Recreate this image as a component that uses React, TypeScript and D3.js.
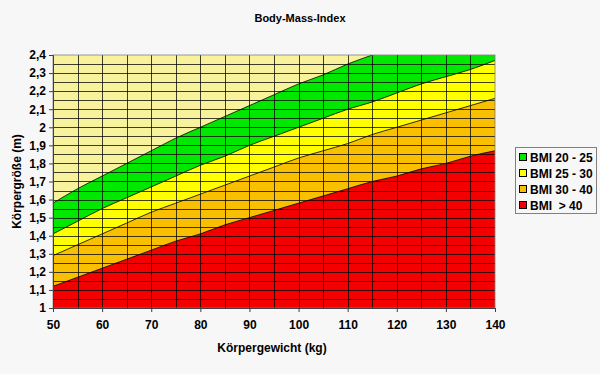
import * as d3 from 'd3';
import React, { useEffect, useRef } from 'react';

// Körpergewicht (kg)
const weights = [50, 55, 60, 65, 70, 75, 80, 85, 90, 95, 100, 105, 110, 115, 120, 125, 130, 135, 140];
// Körpergröße (m) at the band limits
const bmi20 = [1.58, 1.66, 1.73, 1.80, 1.87, 1.94, 2.00, 2.06, 2.12, 2.18, 2.24, 2.29, 2.35, 2.40, 2.45, 2.50, 2.55, 2.60, 2.65];
const bmi25 = [1.41, 1.48, 1.55, 1.61, 1.67, 1.73, 1.79, 1.84, 1.90, 1.95, 2.00, 2.05, 2.10, 2.14, 2.19, 2.24, 2.28, 2.32, 2.37];
const bmi30 = [1.29, 1.35, 1.41, 1.47, 1.53, 1.58, 1.63, 1.68, 1.73, 1.78, 1.83, 1.87, 1.91, 1.96, 2.00, 2.04, 2.08, 2.12, 2.16];
const bmi40 = [1.12, 1.17, 1.22, 1.27, 1.32, 1.37, 1.41, 1.46, 1.50, 1.54, 1.58, 1.62, 1.66, 1.70, 1.73, 1.77, 1.80, 1.84, 1.87];

const seriesNames = ['BMI 20 - 25', 'BMI 25 - 30', 'BMI 30 - 40', 'BMI  > 40'];
const seriesColors = ['#00E800', '#FFFF00', '#F8C000', '#F40000'];
const xTicks = [50, 60, 70, 80, 90, 100, 110, 120, 130, 140];
const yTicks = [1, 1.1, 1.2, 1.3, 1.4, 1.5, 1.6, 1.7, 1.8, 1.9, 2, 2.1, 2.2, 2.3, 2.4];

const App = (): React.JSX.Element => {
	const ref = useRef<SVGSVGElement | null>(null);

	useEffect(() => {
		if (ref.current === null) return;
		document.body.style.margin = '0';
		const root = d3.select(ref.current);
		root.selectAll('*').remove();

		const width = 600;
		const height = 374;
		const margin = { top: 55, right: 105, bottom: 66, left: 53 };
		const font = 'Arial, "Liberation Sans", sans-serif';

		root.attr('width', width).attr('height', height).style('display', 'block');
		root.append('rect').attr('width', width).attr('height', height).attr('fill', '#F7F7F7');

		const x = d3.scaleLinear().domain([50, 140]).range([margin.left, width - margin.right]);
		const y = d3.scaleLinear().domain([1, 2.4]).range([height - margin.bottom, margin.top]);

		root.append('clipPath').attr('id', 'plot-clip')
			.append('rect')
			.attr('x', x(50)).attr('y', y(2.4))
			.attr('width', x(140) - x(50)).attr('height', y(1) - y(2.4));

		const plot = root.append('g').attr('clip-path', 'url(#plot-clip)');

		plot.append('rect')
			.attr('x', x(50)).attr('y', y(2.4))
			.attr('width', x(140) - x(50)).attr('height', y(1) - y(2.4))
			.attr('fill', '#F8F29C');

		const bands = [bmi20, bmi25, bmi30, bmi40];
		const area = d3.area<number>()
			.curve(d3.curveMonotoneX)
			.x((_, i) => x(weights[i]))
			.y0(y(1))
			.y1((d) => y(d));
		const line = d3.line<number>()
			.curve(d3.curveMonotoneX)
			.x((_, i) => x(weights[i]))
			.y((d) => y(d));

		bands.forEach((band, i) => {
			plot.append('path').datum(band).attr('d', area).attr('fill', seriesColors[i]);
		});

		// grid
		const grid = plot.append('g').attr('stroke', '#000').attr('stroke-opacity', 0.75).attr('stroke-width', 1);
		d3.range(55, 140, 5).forEach((w) => {
			grid.append('line')
				.attr('x1', Math.round(x(w)) + 0.5).attr('x2', Math.round(x(w)) + 0.5)
				.attr('y1', y(2.4)).attr('y2', y(1));
		});
		d3.range(1.05, 2.4, 0.05).forEach((h) => {
			grid.append('line')
				.attr('x1', x(50)).attr('x2', x(140))
				.attr('y1', Math.round(y(h)) + 0.5).attr('y2', Math.round(y(h)) + 0.5);
		});

		bands.forEach((band) => {
			plot.append('path').datum(band).attr('d', line)
				.attr('fill', 'none').attr('stroke', '#000').attr('stroke-width', 0.8);
		});

		// plot border
		root.append('rect')
			.attr('x', x(50)).attr('y', y(2.4))
			.attr('width', x(140) - x(50)).attr('height', y(1) - y(2.4))
			.attr('fill', 'none').attr('stroke', '#808080').attr('stroke-width', 0.8);

		const fmt = (d: number) => String(Math.round(d * 10) / 10).replace('.', ',');

		const yAxis = root.append('g')
			.attr('transform', `translate(${x(50)},0)`)
			.call(d3.axisLeft(y).tickValues(yTicks).tickSize(4).tickFormat((d) => fmt(d as number)));
		yAxis.selectAll('text').attr('font-family', font).attr('font-size', 12).attr('font-weight', 'bold').attr('fill', '#000');
		yAxis.selectAll('line, path').attr('stroke', '#404040');

		const xAxis = root.append('g')
			.attr('transform', `translate(0,${y(1)})`)
			.call(d3.axisBottom(x).tickValues(xTicks).tickSize(4).tickFormat((d) => String(d)));
		xAxis.selectAll('text').attr('font-family', font).attr('font-size', 12).attr('font-weight', 'bold').attr('fill', '#000').attr('dy', '1.15em');
		xAxis.selectAll('line, path').attr('stroke', '#404040');

		root.append('text')
			.attr('x', 300).attr('y', 22)
			.attr('text-anchor', 'middle')
			.attr('font-family', font).attr('font-size', 11).attr('font-weight', 'bold')
			.text('Body-Mass-Index');

		root.append('text')
			.attr('x', 272).attr('y', 352)
			.attr('text-anchor', 'middle')
			.attr('font-family', font).attr('font-size', 12).attr('font-weight', 'bold')
			.text('Körpergewicht (kg)');

		root.append('text')
			.attr('transform', `translate(21,${(y(1) + y(2.4)) / 2}) rotate(-90)`)
			.attr('text-anchor', 'middle')
			.attr('font-family', font).attr('font-size', 12).attr('font-weight', 'bold')
			.text('Körpergröße (m)');

		// legend
		const legend = root.append('g').attr('transform', 'translate(515,147)');
		legend.append('rect')
			.attr('x', 0.5).attr('y', 0.5).attr('width', 81).attr('height', 66)
			.attr('fill', '#F7F7F7').attr('stroke', '#808080');
		seriesNames.forEach((name, i) => {
			const g = legend.append('g').attr('transform', `translate(0,${10 + i * 16})`);
			g.append('rect')
				.attr('x', 4.5).attr('y', -3.5).attr('width', 7).attr('height', 7)
				.attr('fill', seriesColors[i]).attr('stroke', '#000');
			g.append('text')
				.attr('x', 15).attr('y', 4.5)
				.attr('font-family', font).attr('font-size', 12).attr('font-weight', 'bold')
				.style('white-space', 'pre')
				.text(name);
		});
	}, []);

	return <svg ref={ref} />;
};

export default App;
